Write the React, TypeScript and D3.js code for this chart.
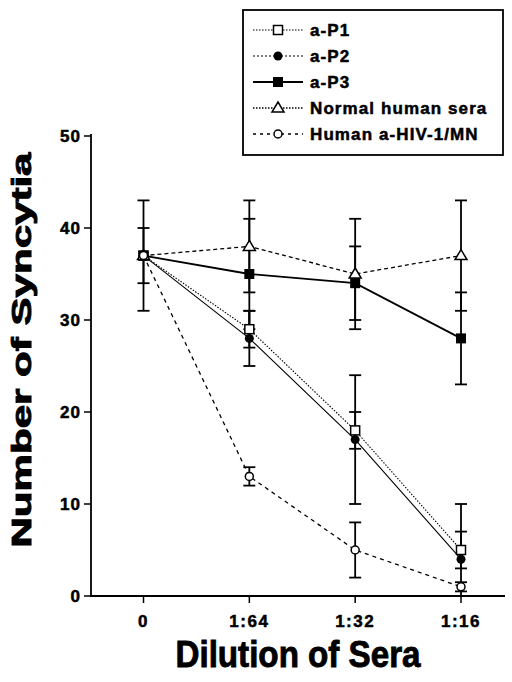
import * as d3 from "d3";

// dilution categories along the x axis
const dilutions = ["0", "1:64", "1:32", "1:16"];
const yTicks = [0, 10, 20, 30, 40, 50];

const seriesNames = ["a-P1", "a-P2", "a-P3", "Normal human sera", "Human a-HIV-1/MN"];

// mean number of syncytia and error (+/-) per dilution
const p1Values = [37, 29, 18, 5];
const p1Errors = [0, 2, 2, 2];
const p2Values = [37, 28, 17, 4];
const p2Errors = [0, 3, 7, 6];
const p3Values = [37, 35, 34, 28];
const p3Errors = [3, 6, 4, 5];
const normalValues = [37, 38, 35, 37];
const normalErrors = [6, 5, 6, 6];
const hivValues = [37, 13, 5, 1];
const hivErrors = [0, 1, 3, 0.5];

const W = 512;
const H = 682;
const font = "'Liberation Sans', Arial, Helvetica, sans-serif";

const x = d3.scalePoint<string>().domain(dilutions).range([143.5, 461]);
const y = d3.scaleLinear().domain([0, 50]).range([596, 136]);

type MarkerType = "openSquare" | "dot" | "square" | "triangle" | "circle";

const series = [
  { name: seriesNames[0], values: p1Values, errors: p1Errors, marker: "openSquare" as MarkerType, dash: "1.5,1.5", width: 1.1 },
  { name: seriesNames[1], values: p2Values, errors: p2Errors, marker: "dot" as MarkerType, dash: "none", width: 1.1 },
  { name: seriesNames[2], values: p3Values, errors: p3Errors, marker: "square" as MarkerType, dash: "none", width: 1.8 },
  { name: seriesNames[3], values: normalValues, errors: normalErrors, marker: "triangle" as MarkerType, dash: "4,3", width: 1.3 },
  { name: seriesNames[4], values: hivValues, errors: hivErrors, marker: "circle" as MarkerType, dash: "4,4", width: 1.3 },
];

// legend samples in the original use dotted strokes for the thin series
const legendDash = ["1.5,1.5", "2,2", "none", "1.5,1.5", "3,4"];

function Marker({ type, cx, cy }: { type: MarkerType; cx: number; cy: number }) {
  switch (type) {
    case "openSquare":
      return <rect x={cx - 4.5} y={cy - 4.5} width={9} height={9} fill="#fff" stroke="#000" strokeWidth={1.5} />;
    case "dot":
      return <circle cx={cx} cy={cy} r={4.5} fill="#000" />;
    case "square":
      return <rect x={cx - 5} y={cy - 5} width={10} height={10} fill="#000" />;
    case "triangle":
      return (
        <path
          d={`M${cx},${cy - 6}L${cx + 6},${cy + 4}L${cx - 6},${cy + 4}Z`}
          fill="#fff"
          stroke="#000"
          strokeWidth={1.5}
        />
      );
    default:
      return <circle cx={cx} cy={cy} r={4} fill="#fff" stroke="#000" strokeWidth={1.5} />;
  }
}

export default function App() {
  const line = d3
    .line<number>()
    .x((_, i) => x(dilutions[i]) as number)
    .y((d) => y(d));

  const legendX = 243;
  const legendY = 10;

  return (
    <svg width={W} height={H} style={{ position: "absolute", left: 0, top: 0, background: "#fff" }}>
      <rect width={W} height={H} fill="#fff" />

      {/* axes */}
      <line x1={91} x2={91} y1={y(50) - 2} y2={y(0)} stroke="#000" strokeWidth={1.8} />
      <line x1={90} x2={505} y1={y(0)} y2={y(0)} stroke="#000" strokeWidth={1.8} />
      {yTicks.map((t) => (
        <g key={t}>
          <line x1={84} x2={91} y1={y(t)} y2={y(t)} stroke="#000" strokeWidth={1.5} />
          <text
            x={81}
            y={y(t)}
            dy="0.36em"
            textAnchor="end"
            fontFamily={font}
            fontWeight="bold"
            fontSize={17}
            letterSpacing={1}
            stroke="#000"
            strokeWidth={0.5}
          >
            {t}
          </text>
        </g>
      ))}
      {dilutions.map((d) => (
        <g key={d}>
          <line x1={x(d)} x2={x(d)} y1={y(0)} y2={y(0) + 7} stroke="#000" strokeWidth={1.5} />
          <text
            x={x(d)}
            y={627}
            textAnchor="middle"
            fontFamily={font}
            fontWeight="bold"
            fontSize={17}
            letterSpacing={1.5}
            stroke="#000"
            strokeWidth={0.5}
          >
            {d}
          </text>
        </g>
      ))}

      <text
        x={298}
        y={667}
        textAnchor="middle"
        fontFamily={font}
        fontWeight="bold"
        fontSize={37}
        textLength={245}
        lengthAdjust="spacingAndGlyphs"
        stroke="#000"
        strokeWidth={0.9}
      >
        Dilution of Sera
      </text>
      <text
        transform={`translate(31,${350}) rotate(-90)`}
        textAnchor="middle"
        fontFamily={font}
        fontWeight="bold"
        fontSize={27}
        textLength={395}
        lengthAdjust="spacingAndGlyphs"
        stroke="#000"
        strokeWidth={0.9}
      >
        Number of Syncytia
      </text>

      {/* lines */}
      {series.map((s) => (
        <path
          key={s.name + "-line"}
          d={line(s.values) ?? ""}
          fill="none"
          stroke="#000"
          strokeWidth={s.width}
          strokeDasharray={s.dash}
        />
      ))}

      {/* error bars */}
      {series.map((s) =>
        s.values.map((v, i) => {
          if (!s.errors[i]) return null;
          const cx = x(dilutions[i]) as number;
          const hi = v + s.errors[i];
          const lo = Math.max(0, v - s.errors[i]);
          return (
            <g key={s.name + i} stroke="#000" strokeWidth={1.8}>
              <line x1={cx} x2={cx} y1={y(hi)} y2={y(lo)} />
              <line x1={cx - 6} x2={cx + 6} y1={y(hi)} y2={y(hi)} />
              {lo > 0 && <line x1={cx - 6} x2={cx + 6} y1={y(lo)} y2={y(lo)} />}
            </g>
          );
        })
      )}

      {/* markers */}
      {series.map((s) =>
        s.values.map((v, i) => (
          <Marker key={s.name + "m" + i} type={s.marker} cx={x(dilutions[i]) as number} cy={y(v)} />
        ))
      )}

      {/* legend */}
      <rect x={legendX} y={legendY} width={260} height={145} fill="#fff" stroke="#000" strokeWidth={1.8} />
      {series.map((s, i) => {
        const ly = legendY + 20 + i * 26;
        return (
          <g key={s.name + "-legend"}>
            <line
              x1={253}
              x2={303}
              y1={ly}
              y2={ly}
              stroke="#000"
              strokeWidth={s.width}
              strokeDasharray={legendDash[i]}
            />
            <Marker type={s.marker} cx={278} cy={ly} />
            <text
              x={310}
              y={ly}
              dy="0.36em"
              fontFamily={font}
              fontWeight="bold"
              fontSize={17}
              letterSpacing={1.1}
              stroke="#000"
              strokeWidth={0.5}
            >
              {s.name}
            </text>
          </g>
        );
      })}
    </svg>
  );
}
